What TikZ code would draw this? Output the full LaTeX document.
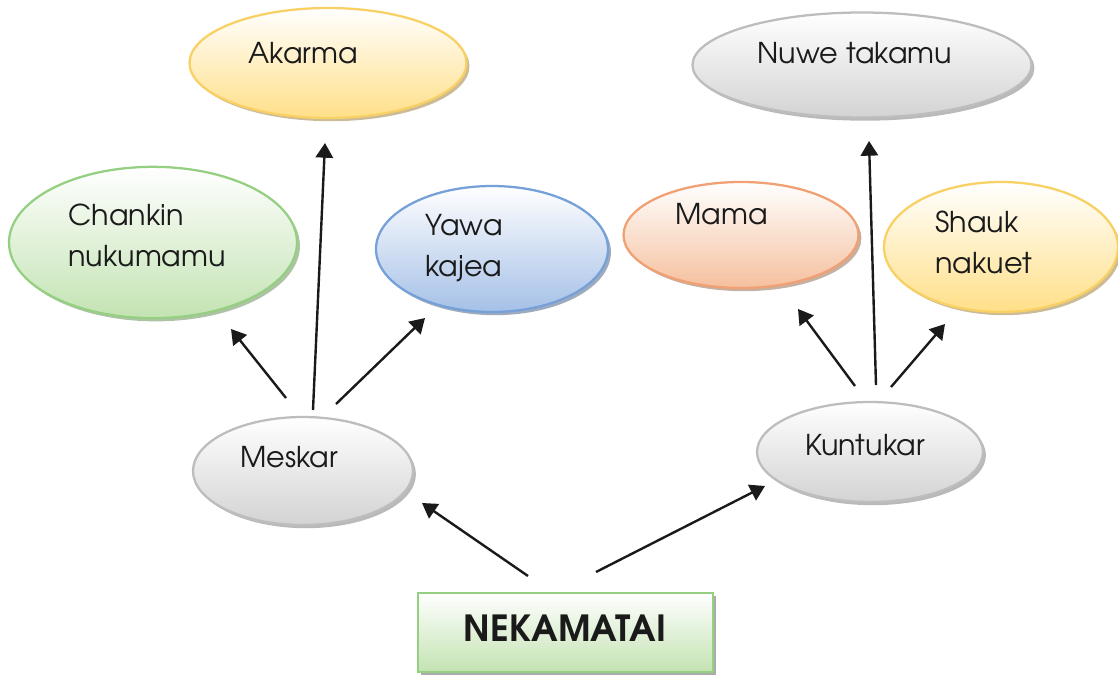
\documentclass[tikz,border=0pt]{standalone}
\usepackage{fontspec}
\setmainfont{TeX Gyre Adventor}
\usetikzlibrary{shapes.geometric,shadows,arrows.meta}

% palette
\definecolor{ink}{HTML}{1A1A1A}
\definecolor{yelB}{HTML}{F8D064}\definecolor{yelF}{HTML}{FFDF88}\definecolor{yelS}{HTML}{B9A574}
\definecolor{grnB}{HTML}{94CF82}\definecolor{grnF}{HTML}{C3E3B2}\definecolor{grnS}{HTML}{93AE87}
\definecolor{bluB}{HTML}{76A0D8}\definecolor{bluF}{HTML}{A5C0E7}\definecolor{bluS}{HTML}{7D8FA8}
\definecolor{orgB}{HTML}{F0A072}\definecolor{orgF}{HTML}{F5C09E}\definecolor{orgS}{HTML}{B39583}
\definecolor{gryB}{HTML}{BDBDBD}\definecolor{gryF}{HTML}{D3D3D3}\definecolor{gryS}{HTML}{A2A2A2}

\tikzset{
  bubble/.style={ellipse, inner sep=0pt, line width=1.7pt},
  tint/.style n args={3}{draw=#1, top color=white, bottom color=#2,
    drop shadow={shadow xshift=2.2pt, shadow yshift=-2.4pt, fill=#3, opacity=.75}},
  yellowbubble/.style={bubble, tint={yelB}{yelF}{yelS}},
  greenbubble/.style={bubble, tint={grnB}{grnF}{grnS}},
  bluebubble/.style={bubble, tint={bluB}{bluF}{bluS}},
  orangebubble/.style={bubble, tint={orgB}{orgF}{orgS}},
  greybubble/.style={bubble, tint={gryB}{gryF}{gryS}},
  word/.style={anchor=base west, inner sep=0pt, text=ink,
    font=\fontsize{21.5pt}{30.75pt}\selectfont, align=left},
  link/.style={draw=ink, line width=1.8pt,
    -{Triangle[length=11pt, width=13pt]}},
}

\begin{document}
\begin{tikzpicture}[x=0.75pt, y=-0.75pt]
\useasboundingbox (0,0) rectangle (1118,682);

% ellipses
\node[yellowbubble, minimum width=207.75pt, minimum height=82.5pt] (akarma) at (328,63) {};
\node[greenbubble, minimum width=216pt, minimum height=113.5pt] (chankin) at (153,242.5) {};
\node[bluebubble, minimum width=174pt, minimum height=94.5pt] (yawa) at (492,249) {};
\node[greybubble, minimum width=165pt, minimum height=81pt] (meskar) at (303,471) {};
\node[greybubble, minimum width=254.25pt, minimum height=78.75pt] (nuwe) at (862,65) {};
\node[orangebubble, minimum width=176.25pt, minimum height=79.5pt] (mama) at (741,235) {};
\node[yellowbubble, minimum width=175.5pt, minimum height=97.5pt] (shauk) at (1001,247) {};
\node[greybubble, minimum width=169.5pt, minimum height=75pt] (kuntukar) at (870,452) {};

% root box
\node[rectangle, draw=grnB, line width=1.7pt, top color=white, bottom color=grnF,
      minimum width=221.25pt, minimum height=59.25pt, inner sep=0pt,
      drop shadow={shadow xshift=2.6pt, shadow yshift=-2.6pt, fill=gryS, opacity=.9}]
      (root) at (565.5,632.5) {};
\node[text=ink, inner sep=0pt, font=\fontsize{27pt}{30pt}\selectfont\bfseries]
      (rootlabel) at (565,628) {NEKAMATAI};

% labels (base = baseline of the last line)
\node[word] (akarmalabel) at (248,63) {Akarma};
\node[word] (chankinlabel) at (68,266) {Chankin\\nukumamu};
\node[word] (yawalabel) at (425,276) {Yawa\\kajea};
\node[word] (meskarlabel) at (240,467) {Meskar};
\node[word] (nuwelabel) at (757,63) {Nuwe takamu};
\node[word] (mamalabel) at (675,224) {Mama};
\node[word] (shauklabel) at (935,273) {Shauk\\nakuet};
\node[word] (kuntukarlabel) at (805,455) {Kuntukar};

% free ends of the arrows
\coordinate (m1) at (313,410); \coordinate (a1) at (325,143);
\coordinate (m2) at (286,398); \coordinate (c2) at (231,329);
\coordinate (m3) at (336,404); \coordinate (y3) at (425,318);
\coordinate (r4) at (528,576); \coordinate (s4) at (422,503);
\coordinate (r5) at (596,572); \coordinate (k5) at (765,486);
\coordinate (k6) at (855,386); \coordinate (o6) at (798,309);
\coordinate (k7) at (876,385); \coordinate (n7) at (869,141);
\coordinate (k8) at (891,387); \coordinate (h8) at (945,324);

\draw[link] (m1) -- (a1);
\draw[link] (m2) -- (c2);
\draw[link] (m3) -- (y3);
\draw[link] (r4) -- (s4);
\draw[link] (r5) -- (k5);
\draw[link] (k6) -- (o6);
\draw[link] (k7) -- (n7);
\draw[link] (k8) -- (h8);
\end{tikzpicture}
\end{document}
